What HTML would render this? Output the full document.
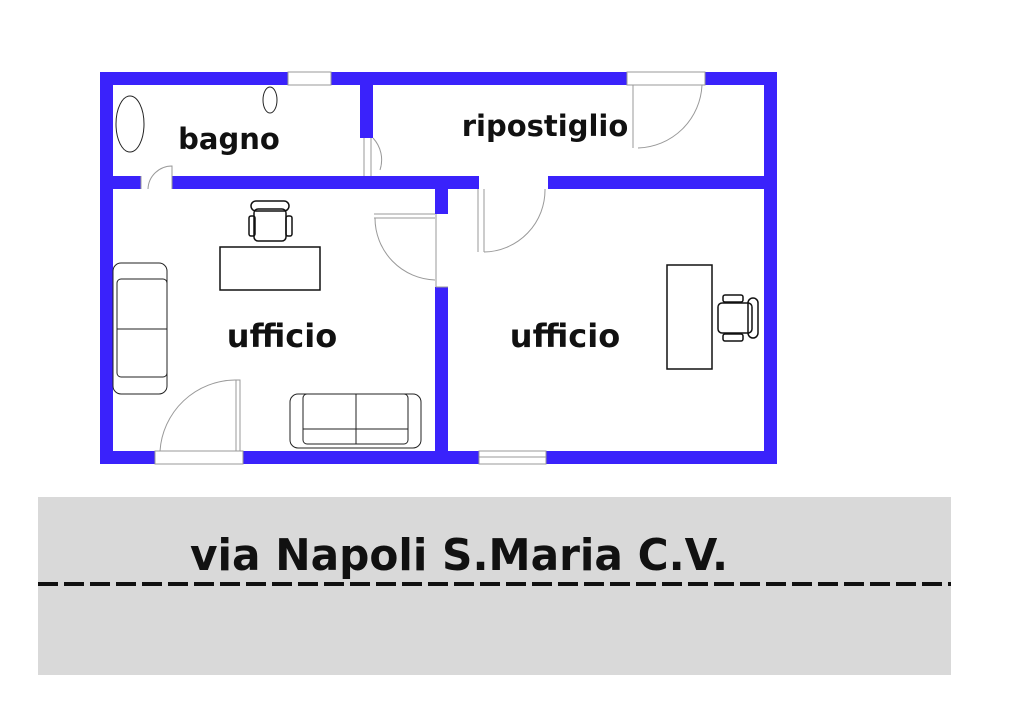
<!DOCTYPE html>
<html><head><meta charset="utf-8"><style>
html,body{margin:0;padding:0;background:#fff;width:1024px;height:724px;overflow:hidden}
svg{display:block}
text{font-family:"DejaVu Sans","Liberation Sans",sans-serif;font-weight:bold;fill:#111}
</style></head><body>
<svg width="1024" height="724" viewBox="0 0 1024 724" xmlns="http://www.w3.org/2000/svg">
<g fill="#3a22fb">
<!-- top -->
<rect x="100" y="72" width="188" height="13"/>
<rect x="331" y="72" width="296" height="13"/>
<rect x="705" y="72" width="72" height="13"/>
<!-- left/right -->
<rect x="100" y="72" width="13" height="392"/>
<rect x="764" y="72" width="13" height="392"/>
<!-- bottom -->
<rect x="100" y="451" width="55" height="13"/>
<rect x="243" y="451" width="236" height="13"/>
<rect x="546" y="451" width="231" height="13"/>
<!-- middle horizontal -->
<rect x="100" y="176" width="41" height="13"/>
<rect x="172" y="176" width="307" height="13"/>
<rect x="548" y="176" width="216" height="13"/>
<!-- bagno/ripostiglio -->
<rect x="360" y="72" width="13" height="66"/>
<!-- ufficio divider -->
<rect x="435" y="176" width="13" height="38"/>
<rect x="435" y="287" width="13" height="177"/>
</g>
<g fill="none" stroke="#999" stroke-width="1">
<rect x="288" y="72" width="43" height="13"/>
<rect x="627" y="72" width="78" height="13"/>
<rect x="479" y="451" width="67" height="13"/>
<line x1="479" y1="457" x2="546" y2="457"/>
<rect x="155" y="451" width="88" height="13"/>
<path d="M633 85 V148 M638 148 A66 66 0 0 0 702 85"/>
<path d="M141 189 V176 M172 176 V189 M148 189 A24 24 0 0 1 172 166 V189"/>
<path d="M364 138 V176 M371 138 V176 M373 138 A32 32 0 0 1 380 170"/>
<path d="M478 189 V252 M484 189 V252 M484 252 A62 62 0 0 0 545 189"/>
<path d="M374 214 H435 M374 218 H435 M436 214 V287 M436 287 H448 M375 218 A62 62 0 0 0 435 280"/>
<path d="M160 451 A76 76 0 0 1 235 380 H236 V451 M236 380 H240 V451"/>
</g>
<g fill="none" stroke="#111" stroke-width="1.5">
<rect x="220" y="247" width="100" height="43"/>
<rect x="254" y="209" width="32" height="32" rx="4"/>
<rect x="251" y="201" width="38" height="10" rx="5"/>
<rect x="249" y="216" width="6" height="20" rx="2"/>
<rect x="286" y="216" width="6" height="20" rx="2"/>
<rect x="667" y="265" width="45" height="104"/>
<rect x="718" y="303" width="34" height="30" rx="4"/>
<rect x="748" y="298" width="10" height="40" rx="5"/>
<rect x="723" y="295" width="20" height="7" rx="2"/>
<rect x="723" y="334" width="20" height="7" rx="2"/>
</g>
<g fill="none" stroke="#222" stroke-width="1">
<ellipse cx="130" cy="124" rx="14" ry="28"/>
<ellipse cx="270" cy="100" rx="7" ry="13"/>
<rect x="113" y="263" width="54" height="131" rx="8"/>
<rect x="117" y="279" width="50" height="98" rx="4"/>
<line x1="117" y1="329" x2="167" y2="329"/>
<rect x="290" y="394" width="131" height="54" rx="8"/>
<rect x="303" y="394" width="105" height="50" rx="4"/>
<line x1="356" y1="394" x2="356" y2="444"/>
<line x1="303" y1="429" x2="408" y2="429"/>
</g>
<text x="229" y="149" font-size="29" text-anchor="middle">bagno</text>
<text x="545" y="136" font-size="29" text-anchor="middle">ripostiglio</text>
<text x="282" y="347" font-size="32" text-anchor="middle">ufficio</text>
<text x="565" y="347" font-size="32" text-anchor="middle">ufficio</text>
<rect x="38" y="497" width="913" height="178" fill="#d9d9d9"/>
<text x="190" y="570" font-size="44" textLength="538" lengthAdjust="spacingAndGlyphs">via Napoli S.Maria C.V.</text>
<line x1="38" y1="584" x2="951" y2="584" stroke="#111" stroke-width="4" stroke-dasharray="20 6"/>
</svg>
</body></html>
